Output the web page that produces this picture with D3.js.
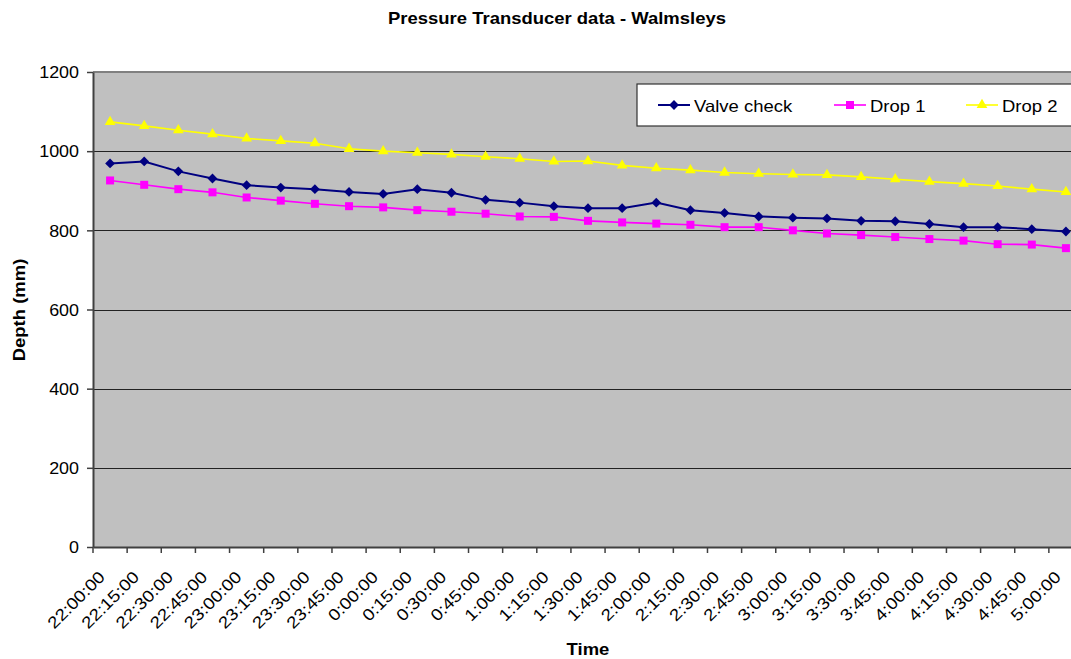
<!DOCTYPE html>
<html>
<head>
<meta charset="utf-8">
<script src="https://cdn.jsdelivr.net/npm/d3@7"></script>
<style>
  html, body { margin: 0; padding: 0; background: #fff; }
  svg { display: block; font-family: Arial, "Liberation Sans", sans-serif; }
</style>
</head>
<body>
<svg id="chart" width="1071" height="659"></svg>
<script>
// Logged readings every 15 minutes, 22:00 to 05:00
const times = ["22:00:00","22:15:00","22:30:00","22:45:00","23:00:00","23:15:00","23:30:00","23:45:00",
  "0:00:00","0:15:00","0:30:00","0:45:00","1:00:00","1:15:00","1:30:00","1:45:00","2:00:00","2:15:00",
  "2:30:00","2:45:00","3:00:00","3:15:00","3:30:00","3:45:00","4:00:00","4:15:00","4:30:00","4:45:00","5:00:00"];

const valveCheck = [969, 974, 949, 931, 914, 908, 904, 897, 892, 904, 895, 877, 870, 861, 856, 856, 870, 851,
  844, 835, 832, 830, 824, 823, 816, 808, 808, 803, 797];
const drop1 = [926, 915, 904, 896, 883, 875, 867, 861, 858, 851, 847, 842, 835, 834, 824, 820, 817, 814,
  808, 808, 800, 792, 788, 783, 778, 774, 765, 764, 755];
const drop2 = [1074, 1064, 1053, 1043, 1032, 1026, 1020, 1006, 1000, 996, 992, 986, 981, 974, 975, 964, 957, 952,
  946, 943, 941, 940, 935, 929, 923, 918, 912, 904, 897];

const yTicks = [0, 200, 400, 600, 800, 1000, 1200];

const seriesNames = ["Valve check", "Drop 1", "Drop 2"];
const seriesColors = ["#000080", "#FF00FF", "#FFFF00"];

// Marker generators: diamond (rotated square), square, triangle
const markers = [
  { d: d3.symbol().type(d3.symbolSquare).size(48)(), rot: 45 },
  { d: d3.symbol().type(d3.symbolSquare).size(64)(), rot: 0 },
  { d: d3.symbol().type(d3.symbolTriangle).size(50)(), rot: 0 }
];

const series = [valveCheck, drop1, drop2].map((vals, i) => ({
  name: seriesNames[i], color: seriesColors[i], marker: markers[i],
  values: vals.map((v, j) => ({ t: times[j], v }))
}));

const svg = d3.select("#chart");
const SX = 1.12; // horizontal stretch applied to text
const plot = { left: 93, top: 72, right: 1083, bottom: 547 };

const x = d3.scaleBand().domain(times).range([plot.left, plot.right]).padding(0);
const y = d3.scaleLinear().domain([0, 1200]).range([plot.bottom, plot.top]);
const cx = t => x(t) + x.bandwidth() / 2;

// Plot area
svg.append("rect")
  .attr("x", plot.left).attr("y", plot.top)
  .attr("width", plot.right - plot.left).attr("height", plot.bottom - plot.top)
  .attr("fill", "#C0C0C0");

// Gridlines
svg.append("g").selectAll("line")
  .data(yTicks.filter(d => d > 0 && d < 1200))
  .join("line")
  .attr("x1", plot.left).attr("x2", plot.right)
  .attr("y1", d => Math.round(y(d)) + 0.5).attr("y2", d => Math.round(y(d)) + 0.5)
  .attr("stroke", "#222").attr("stroke-width", 1);

// Plot top border
svg.append("line")
  .attr("x1", plot.left).attr("x2", plot.right)
  .attr("y1", plot.top).attr("y2", plot.top)
  .attr("stroke", "#808080").attr("stroke-width", 2);

// Y axis
const yAxis = svg.append("g")
  .attr("transform", `translate(${plot.left},0)`)
  .call(d3.axisLeft(y).tickValues(yTicks).tickFormat(d3.format("d"))
    .tickSize(6).tickSizeOuter(0).tickPadding(8));
yAxis.select(".domain").attr("stroke", "#404040").attr("stroke-width", 2);
yAxis.selectAll(".tick line").attr("stroke", "#404040").attr("stroke-width", 1.5);
yAxis.selectAll(".tick text")
  .attr("font-size", 16).attr("fill", "#000")
  .attr("font-family", "Arial, 'Liberation Sans', sans-serif")
  .attr("dy", "0.36em")
  .attr("transform", function() {
    const xx = +d3.select(this).attr("x");
    return `translate(${xx},0) scale(${SX},1) translate(${-xx},0)`;
  });

// X axis: ticks on category boundaries, labels rotated
const xAxis = svg.append("g")
  .attr("transform", `translate(0,${plot.bottom})`)
  .call(d3.axisBottom(x).tickSize(6).tickSizeOuter(0));
xAxis.select(".domain").attr("stroke", "#404040").attr("stroke-width", 2);
xAxis.selectAll(".tick").attr("transform", d => `translate(${x(d)},0)`);
xAxis.selectAll(".tick line").attr("stroke", "#404040").attr("stroke-width", 1.5);
xAxis.selectAll(".tick text")
  .attr("font-size", 16.5).attr("fill", "#000")
  .attr("font-family", "Arial, 'Liberation Sans', sans-serif")
  .attr("text-anchor", "end")
  .attr("x", null).attr("y", null).attr("dy", null)
  .attr("transform", `translate(13,31) rotate(-45) scale(1.14,1)`);

// Series lines and markers
const line = d3.line().x(d => cx(d.t)).y(d => y(d.v));

series.forEach((s, i) => {
  const g = svg.append("g");
  g.append("path")
    .attr("d", line(s.values))
    .attr("fill", "none")
    .attr("stroke", s.color)
    .attr("stroke-width", i === 0 ? 2 : 1.6);
  g.selectAll("path.mk")
    .data(s.values)
    .join("path")
    .attr("class", "mk")
    .attr("transform", d => `translate(${cx(d.t)},${y(d.v)}) rotate(${s.marker.rot})`)
    .attr("d", s.marker.d)
    .attr("fill", s.color);
});

// Legend
const legend = svg.append("g");
legend.append("rect")
  .attr("x", 637).attr("y", 84).attr("width", 460).attr("height", 42)
  .attr("fill", "#fff").attr("stroke", "#333").attr("stroke-width", 1.2);
const legX = [658, 834, 966];
series.forEach((s, i) => {
  const lg = legend.append("g").attr("transform", `translate(${legX[i]},105)`);
  lg.append("line").attr("x1", 0).attr("x2", 32).attr("y1", 0).attr("y2", 0)
    .attr("stroke", s.color).attr("stroke-width", i === 0 ? 2 : 1.6);
  lg.append("path").attr("transform", `translate(16,0) rotate(${s.marker.rot})`)
    .attr("d", s.marker.d)
    .attr("fill", s.color);
  lg.append("text")
    .attr("transform", `translate(36,7) scale(${SX},1)`)
    .attr("font-size", 16.5).attr("fill", "#000")
    .text(s.name);
});

// Titles
svg.append("text")
  .attr("transform", `translate(557,24) scale(${SX},1)`)
  .attr("text-anchor", "middle").attr("font-size", 16.5).attr("font-weight", "bold")
  .text("Pressure Transducer data - Walmsleys");
svg.append("text")
  .attr("transform", `translate(588,655) scale(${SX},1)`)
  .attr("text-anchor", "middle").attr("font-size", 16.5).attr("font-weight", "bold")
  .text("Time");
svg.append("text")
  .attr("transform", `translate(25,310) rotate(-90) scale(${SX},1)`)
  .attr("text-anchor", "middle").attr("font-size", 16.5).attr("font-weight", "bold")
  .text("Depth (mm)");
</script>
</body>
</html>
